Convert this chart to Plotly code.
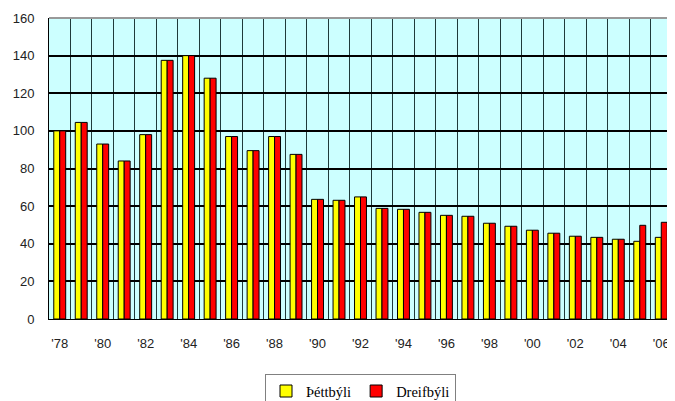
import plotly.graph_objects as go

years = list(range(1978, 2007))
thettbyli = [100, 104.5, 93, 84, 98, 137.5, 140, 128, 97, 89.5, 97, 87.5,
             63.6, 63.1, 64.9, 58.8, 58.3, 56.7, 55.1, 54.6, 50.9, 49.3,
             47.2, 45.6, 44.0, 43.4, 42.4, 41.3, 43.4]
dreifbyli = [100, 104.5, 93, 84, 98, 137.5, 140, 128, 97, 89.5, 97, 87.5,
             63.6, 63.1, 64.9, 58.8, 58.3, 56.7, 55.1, 54.6, 50.9, 49.3,
             47.2, 45.6, 44.0, 43.4, 42.4, 49.8, 51.4]
tick_years = years[::2]
tick_labels = ["'" + str(y)[2:] for y in tick_years]

fig = go.Figure()
fig.add_trace(go.Bar(x=years, y=thettbyli, name="Þéttbýli",
                     marker=dict(color="#FFFF00", line=dict(color="#000000", width=1))))
fig.add_trace(go.Bar(x=years, y=dreifbyli, name="Dreifbýli",
                     marker=dict(color="#FF0000", line=dict(color="#000000", width=1))))

# the page body has an 8px margin, so the figure is sized to fill the rest of the window
fig.update_layout(
    width=667, height=393,
    margin=dict(l=41, r=3, t=10, b=82, autoexpand=False),
    plot_bgcolor="#CCFFFF", paper_bgcolor="#FFFFFF",
    barmode="group", bargap=0.445, bargroupgap=0,
    font=dict(family="Liberation Sans, Arial", size=13, color="#222222"),
    showlegend=True,
    legend=dict(orientation="h", x=0.5, xanchor="center", y=-0.183, yanchor="top",
                font=dict(family="Liberation Serif, Times New Roman", size=14.5, color="#000000"),
                bordercolor="#808080", borderwidth=1, bgcolor="#FFFFFF",
                itemwidth=30, tracegroupgap=0),
    xaxis=dict(range=[years[0] - 0.5, years[-1] + 0.5], tickvals=tick_years, ticktext=tick_labels,
               showgrid=False, ticks="", ticklabelstandoff=12, automargin=False,
               showline=True, linecolor="#000000", linewidth=1,
               minor=dict(tick0=years[0] - 0.5, dtick=1, showgrid=True,
                          gridcolor="#1F3A3A", gridwidth=1, ticks=""),
               zeroline=False),
    yaxis=dict(range=[0, 160], dtick=20, showgrid=True, gridcolor="#000000", gridwidth=2,
               ticks="", ticklabelstandoff=11, automargin=False, zeroline=True,
               zerolinecolor="#000000", zerolinewidth=1, showline=True,
               linecolor="#000000", linewidth=1),
    shapes=[dict(type="line", xref="paper", yref="paper", x0=0, x1=1, y0=1, y1=1,
                 line=dict(color="#999999", width=2))],
)

fig.write_html("out.html")
